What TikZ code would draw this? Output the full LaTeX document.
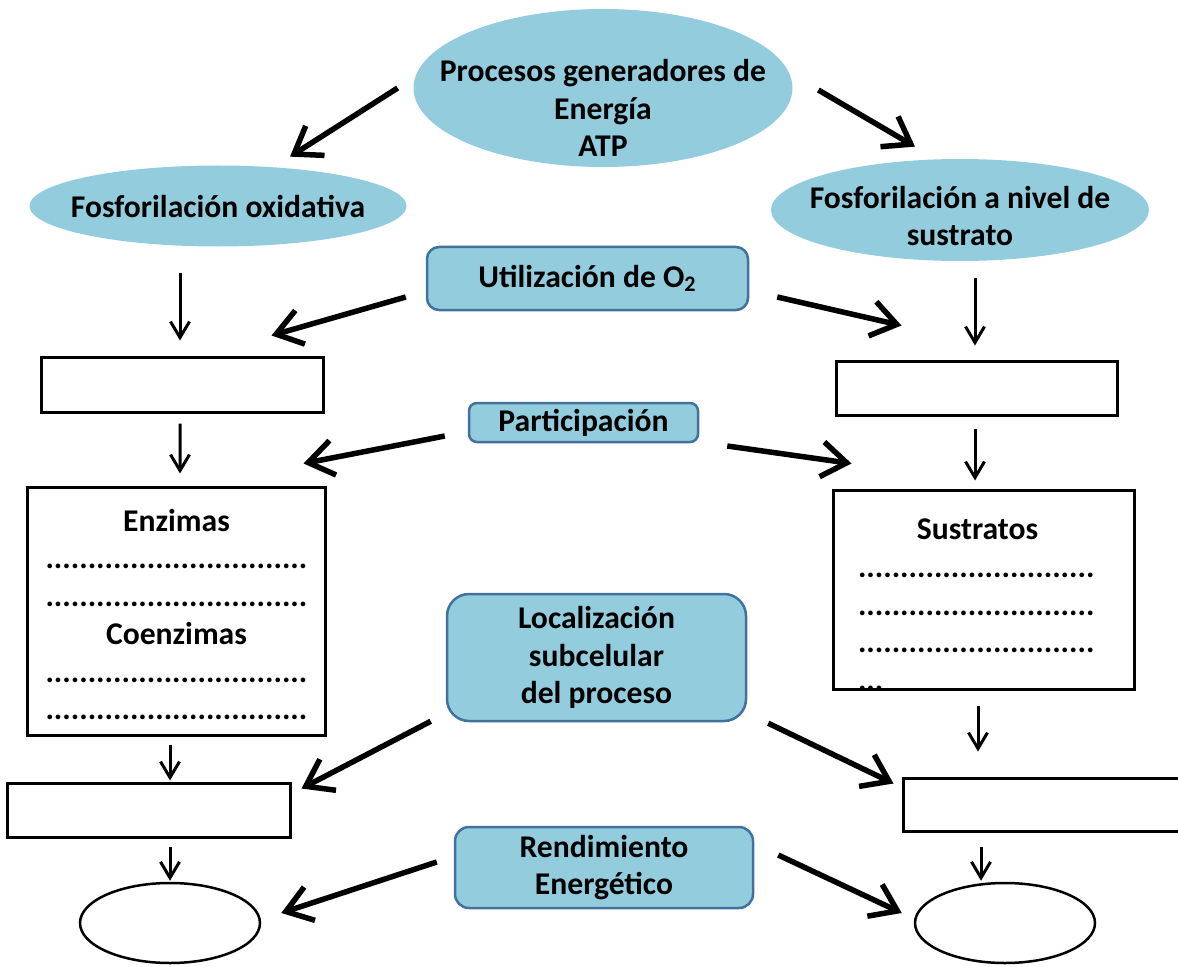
\documentclass[tikz,border=0pt]{standalone}
\usepackage{fontspec}
\setmainfont{Carlito}
\usepackage{xcolor}
\definecolor{aquaFill}{HTML}{93CDDD}
\definecolor{frameBlue}{HTML}{41719C}
\usepackage{tikz}
\usetikzlibrary{
    shapes.geometric,
    arrows.meta,
    positioning,
    calc
}
\newcommand{\dotsrowA}{...............................}
\newcommand{\dotsrowB}{............................}
\tikzset{
    % Base style for all nodes
    diagram base/.style={
        font=\fontsize{18}{21.5}\selectfont\bfseries,
        align=center,
        text=black,
        inner sep=0pt,
    },
    % Process ellipses - flat aqua fill, no outline, text set as a label
    process ellipse/.style={
        diagram base,
        ellipse,
        fill=aquaFill,
    },
    process text/.style={
        diagram base,
    },
    % Question boxes - rounded rectangle with blue frame
    topic/.style={
        diagram base,
        rectangle,
        rounded corners=2.4mm,
        draw=frameBlue,
        line width=0.5mm,
        fill=aquaFill,
    },
    % Empty answer boxes
    blank box/.style={
        diagram base,
        rectangle,
        draw=black,
        line width=0.6mm,
        fill=white,
    },
    % Empty answer ovals
    blank oval/.style={
        diagram base,
        ellipse,
        draw=black,
        line width=0.5mm,
    },
    % Thick arrows leaving the question boxes
    big arrow/.style={
        -{Straight Barb[length=5mm, width=7mm]},
        line width=1.1mm,
    },
    % Thin arrows down each column
    small arrow/.style={
        -{Straight Barb[length=3.2mm, width=3.8mm]},
        line width=0.6mm,
    },
    % Lines of text inside the list boxes
    list text/.style={
        diagram base,
    },
}

\begin{document}
\begin{tikzpicture}[x=0.2mm, y=-0.2mm]
    \useasboundingbox (0,0) rectangle (1178,967);

    % processes
    \node (gen) [process ellipse, minimum width=75.8mm, minimum height=31.6mm,
        label={[process text, yshift=-4mm]center:Procesos generadores de\\Energía\\ATP}] at (603,88) {};
    \node (oxid) [process ellipse, minimum width=75.4mm, minimum height=16.2mm,
        label={[process text]center:Fosforilación oxidativa}] at (218,206) {};
    \node (sust) [process ellipse, minimum width=75.6mm, minimum height=20.4mm,
        label={[process text, yshift=-1.2mm]center:Fosforilación a nivel de\\sustrato}] at (960,210) {};

    % questions in the middle
    \node (oxygen) [topic, minimum width=64.2mm, minimum height=12.6mm] at (587.5,278.5) {Utilización de O\textsubscript{2}};
    \node (part) [topic, rounded corners=1.6mm, minimum width=45.8mm, minimum height=7.8mm] at (583.5,422.5) {Participación};
    \node (loc) [topic, rounded corners=4.4mm, minimum width=59.8mm, minimum height=25.4mm] at (596.5,657.5) {Localización\\subcelular\\del proceso};
    \node (yield) [topic, rounded corners=2.8mm, minimum width=59.6mm, minimum height=16.2mm] at (604,867.5) {Rendimiento\\Energético};

    % left column
    \node (oxyL) [blank box, minimum width=56.2mm, minimum height=11mm] at (182.5,384.5) {};
    \node (enz) [blank box, minimum width=59.4mm, minimum height=49.6mm] at (176.5,611) {};
    \node (enzText) [list text, below=4.6mm of enz.north] {Enzimas\\\dotsrowA\\\dotsrowA\\Coenzimas\\\dotsrowA\\\dotsrowA};
    \node (locL) [blank box, minimum width=56.4mm, minimum height=10.8mm] at (149,810) {};
    \node (yieldL) [blank oval, minimum width=36mm, minimum height=16mm] at (170,923) {};

    % right column
    \node (oxyR) [blank box, minimum width=56.2mm, minimum height=10.8mm] at (976.5,388) {};
    \node (sus) [blank box, minimum width=60.2mm, minimum height=39.8mm] at (983.5,589.5) {};
    \node (susText) [list text, align=left, text width=47.8mm, below=6mm of sus.north, xshift=-1.2mm] {\makebox[47.8mm]{Sustratos}\\\dotsrowB\\\dotsrowB\\\dotsrowB\\...};
    \node (locR) [blank box, minimum width=57.4mm, minimum height=10.6mm] at (1046.5,804.5) {};
    \node (yieldR) [blank oval, minimum width=36mm, minimum height=16mm] at (1005,923) {};

    % thick arrows
    \draw [big arrow] ($(gen.west)+(-15.5,0)$) -- ($(oxid.north)+(72,-8.5)$);
    \draw [big arrow] ($(gen.east)+(25.5,2)$) -- ($(sust.north)+(-45,-12)$);
    \draw [big arrow] ($(oxygen.west)+(-20,18.5)$) -- ($(oxyL.north east)+(-53,-20)$);
    \draw [big arrow] ($(oxygen.east)+(28,18.5)$) -- ($(oxyR.north west)+(67,-34)$);
    \draw [big arrow] ($(part.west)+(-23,13.5)$) -- ($(enz.north east)+(-23,-22)$);
    \draw [big arrow] ($(part.east)+(28,23.5)$) -- ($(sus.north west)+(20,-25)$);
    \draw [big arrow] ($(loc.south west)+(-15,-1)$) -- ($(locL.north east)+(10,7)$);
    \draw [big arrow] ($(loc.south east)+(21,1)$) -- ($(locR.north west)+(-8,7)$);
    \draw [big arrow] ($(yield.west)+(-17,-5.5)$) -- ($(yieldL.east)+(20,-10)$);
    \draw [big arrow] ($(yield.east)+(24,-12.5)$) -- ($(yieldR.west)+(-12,-10)$);

    % thin arrows
    \draw [small arrow] ($(oxid.south)+(-38,26)$) -- ($(oxyL.north)+(-2.5,-15)$);
    \draw [small arrow] ($(sust.south)+(15,17)$) -- ($(oxyR.north)+(-1.5,-14)$);
    \draw [small arrow] ($(oxyL.south)+(-2.5,10)$) -- ($(enz.north)+(3.5,-12)$);
    \draw [small arrow] ($(oxyR.south)+(-1.5,12)$) -- ($(sus.north)+(-8.5,-8)$);
    \draw [small arrow] ($(enz.south)+(-6.5,8)$) -- ($(locL.north)+(21,-1)$);
    \draw [small arrow] ($(sus.south)+(-5.5,15.5)$) -- ($(locR.north)+(-68.5,-25)$);
    \draw [small arrow] ($(locL.south)+(21,8)$) -- ($(yieldL.north)+(0,-1)$);
    \draw [small arrow] ($(locR.south)+(-65.5,14)$) -- ($(yieldR.north)+(-24,-1)$);
\end{tikzpicture}
\end{document}
